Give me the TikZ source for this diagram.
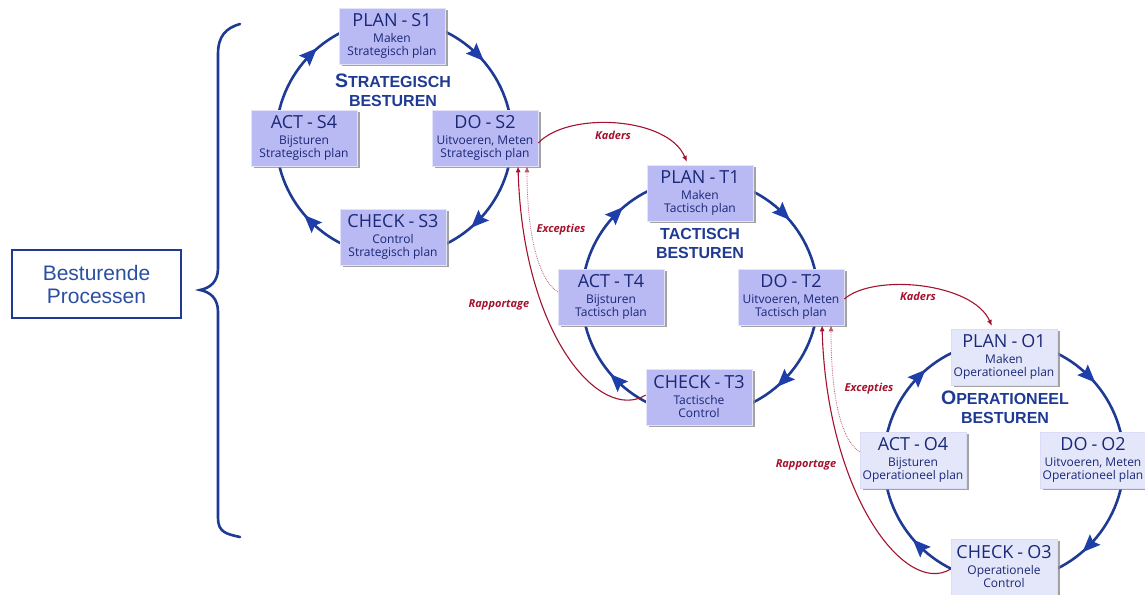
\documentclass[tikz,border=0pt]{standalone}
\usepackage{fontspec}
\setmainfont{Open Sans}
\newfontfamily\arialfont{Liberation Sans}
\usetikzlibrary{arrows.meta,decorations.markings,shadows}

\definecolor{navy}{HTML}{1F3A93}
\definecolor{tipblue}{HTML}{1E3EAA}
\definecolor{boxtext}{HTML}{1A2878}
\definecolor{stbox}{HTML}{B9B9F3}
\definecolor{opbox}{HTML}{E4E7F9}
\definecolor{linkred}{HTML}{A3122E}
\definecolor{labelblue}{HTML}{2B4FA0}

\tikzset{
  phase/.style={fill=stbox, draw=white!60!stbox, line width=0.6pt,
    minimum width=106pt, minimum height=56pt, inner sep=0pt,
    align=center, text=boxtext, font=\fontsize{12}{13}\selectfont,
    drop shadow={shadow xshift=2.5pt, shadow yshift=-2.5pt, fill=black!45, opacity=0.8}},
  opphase/.style={phase, fill=opbox, draw=white!50!stbox},
  ringtitle/.style={align=center, text=navy, font=\arialfont\bfseries\fontsize{16}{19}\selectfont},
  ringhead/.code={\fill[tipblue] (9pt,0pt) -- (-9pt,7.5pt) -- (-6pt,0pt) -- (-9pt,-7.5pt) -- cycle;},
  ring/.style={draw=navy, line width=2.6pt, postaction={decorate},
    decoration={markings,
      mark=at position 0.125 with {\tikzset{ringhead}},
      mark=at position 0.375 with {\tikzset{ringhead}},
      mark=at position 0.625 with {\tikzset{ringhead}},
      mark=at position 0.875 with {\tikzset{ringhead}}}},
  flow/.style={draw=linkred, line width=1.1pt, -{Latex[length=6pt,width=5pt]}},
  flowdot/.style={draw=linkred!70, line width=0.8pt, densely dotted, -{Latex[length=6pt,width=5pt]}},
  flowlabel/.style={text=linkred, font=\bfseries\itshape\fontsize{11}{12}\selectfont},
}

% phase box text: heading, then two smaller lines
\newcommand{\phasetext}[4]{{\fontsize{18}{20}\selectfont #1\hspace{4pt}-\hspace{4pt}#2}\\[3pt]#3\\#4}

\begin{document}
\begin{tikzpicture}[x=1pt,y=1pt]
\useasboundingbox (0,0) rectangle (1145,594);

% left label and brace
\node[draw=navy, line width=2.4pt, minimum width=169pt, minimum height=68pt,
      align=center, text=labelblue, font=\arialfont\fontsize{21}{23}\selectfont]
  (proc) at (96.5,310) {Besturende\\Processen};
\draw[navy, line width=2.6pt, line cap=round]
  (240,570) .. controls (226,566) and (218,558) .. (218,540)
  -- (218,326) .. controls (218,312) and (210,306) .. (200,304)
  .. controls (210,302) and (218,296) .. (218,282)
  -- (218,76) .. controls (218,62) and (226,60) .. (240,57);

% cycles
\draw[ring] (394,456) ++(90:118) arc[start angle=90, end angle=-270, radius=118];
\draw[ring] (700,297) ++(90:118) arc[start angle=90, end angle=-270, radius=118];
\draw[ring] (1004,133) ++(90:120) arc[start angle=90, end angle=-270, radius=120];

% strategic level
\node[phase] (s1) at (392,558) {\phasetext{PLAN}{S1}{Maken}{Strategisch plan}};
\node[phase] (s2) at (485,456) {\phasetext{DO}{S2}{Uitvoeren, Meten}{Strategisch plan}};
\node[phase] (s3) at (393,357) {\phasetext{CHECK}{S3}{Control}{Strategisch plan}};
\node[phase] (s4) at (304,456) {\phasetext{ACT}{S4}{Bijsturen}{Strategisch plan}};
\node[ringtitle] (stitle) at (393,504) {{\fontsize{19.5}{20}\selectfont S}TRATEGISCH\\BESTUREN};

% tactical level
\node[phase] (t1) at (700,401) {\phasetext{PLAN}{T1}{Maken}{Tactisch plan}};
\node[phase] (t2) at (791,297) {\phasetext{DO}{T2}{Uitvoeren, Meten}{Tactisch plan}};
\node[phase] (t3) at (699,197) {\phasetext{CHECK}{T3}{Tactische}{Control}};
\node[phase] (t4) at (611,297) {\phasetext{ACT}{T4}{Bijsturen}{Tactisch plan}};
\node[ringtitle] (ttitle) at (700,351) {TACTISCH\\BESTUREN};

% operational level
\node[opphase] (o1) at (1004,237) {\phasetext{PLAN}{O1}{Maken}{Operationeel plan}};
\node[opphase] (o2) at (1093,134) {\phasetext{DO}{O2}{Uitvoeren, Meten}{Operationeel plan}};
\node[opphase] (o3) at (1004,27) {\phasetext{CHECK}{O3}{Operationele}{Control}};
\node[opphase] (o4) at (913,134) {\phasetext{ACT}{O4}{Bijsturen}{Operationeel plan}};
\node[ringtitle] (otitle) at (1005,187) {{\fontsize{19.5}{20}\selectfont O}PERATIONEEL\\BESTUREN};

% links between levels
\draw[flow, shorten >=3pt] ([yshift=-5pt]s2.east) .. controls +(30,32) and +(-20,48) .. ([xshift=-12pt]t1.north);
\node[flowlabel] (k1) at (613,459) {Kaders};
\draw[flow, shorten >=3pt] ([yshift=-2pt]t2.east) .. controls +(30,26) and +(-20,46) .. ([xshift=-11pt]o1.north);
\node[flowlabel] (k2) at (918,298) {Kaders};

\draw[flow] ([yshift=2pt]t3.west) .. controls +(-45,-28) and +(5,-170) .. ([xshift=33pt]s2.south);
\node[flowlabel] (r1) at (499,289) {Rapportage};
\draw[flowdot] ([yshift=5pt]t4.west) .. controls +(-22,15) and +(0,-60) .. ([xshift=42pt]s2.south);
\node[flowlabel] (e1) at (561,364) {Excepties};

\draw[flow] ([yshift=-2pt]o3.west) .. controls +(-45,-28) and +(5,-170) .. ([xshift=31pt]t2.south);
\node[flowlabel] (r2) at (806,129) {Rapportage};
\draw[flowdot] ([yshift=8pt]o4.west) .. controls +(-22,15) and +(0,-60) .. ([xshift=40pt]t2.south);
\node[flowlabel] (e2) at (869,205) {Excepties};
\end{tikzpicture}
\end{document}
